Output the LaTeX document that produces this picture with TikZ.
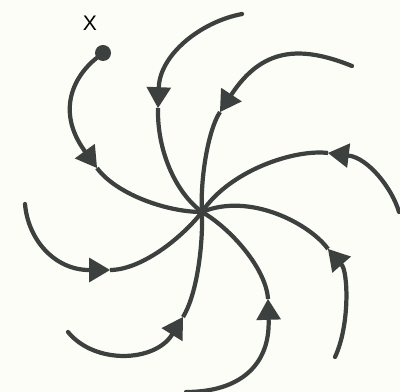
\documentclass[tikz,border=0pt]{standalone}
\usepackage{fontspec}
\setsansfont{Liberation Sans}
\usetikzlibrary{arrows.meta}

\definecolor{ink}{RGB}{60,64,62}
\definecolor{paper}{RGB}{253,253,248}

\begin{document}
\begin{tikzpicture}[
  x=0.025cm, y=-0.025cm,
  flow/.style={draw=ink, line width=3pt, line cap=round},
  inflow/.style={flow, -{Triangle[length=0.52cm, width=0.62cm, line width=0pt]}},
  onward/.style={flow, line cap=butt},
  dot/.style={circle, fill=ink, inner sep=0pt, minimum size=0.4cm},
  every node/.style={font=\sffamily\fontsize{15pt}{17pt}\selectfont}
]
\fill[paper] (0,0) rectangle (400,392);
\useasboundingbox (0,0) rectangle (400,392);

\coordinate (sink) at (202,212);
\node[dot] (xdot) at (103,53) {};
\node (xlabel) at (90,23) {X};

% free ends of the trajectories
\coordinate (s2) at (242,14);
\coordinate (s3) at (352,66);
\coordinate (s4) at (399,212);
\coordinate (s5) at (335,357);
\coordinate (s6) at (186,392);
\coordinate (s7) at (68,332);
\coordinate (s8) at (25,204);

% where the arrowheads point
\coordinate (t1) at (97,168);
\coordinate (t2) at (158,108);
\coordinate (t3) at (220,112);
\coordinate (t4) at (328,153);
\coordinate (t5) at (328,249);
\coordinate (t6) at (268,299);
\coordinate (t7) at (183,317);
\coordinate (t8) at (110,270);

\draw[inflow] (xdot) .. controls (75,75) and (55,110) .. (t1);
\draw[onward] (t1) .. controls (115,193) and (165,212) .. (sink);

\draw[inflow] (s2) .. controls (200,22) and (160,55) .. (t2);
\draw[onward] (t2) .. controls (157,150) and (175,192) .. (sink);

\draw[inflow] (s3) .. controls (300,45) and (262,48) .. (t3);
\draw[onward] (t3) .. controls (208,130) and (200,180) .. (sink);

\draw[inflow] (s4) .. controls (392,188) and (368,158) .. (t4);
\draw[onward] (t4) .. controls (295,149) and (230,170) .. (sink);

\draw[inflow] (s5) .. controls (350,325) and (348,272) .. (t5);
\draw[onward] (t5) .. controls (310,224) and (250,192) .. (sink);

\draw[inflow] (s6) .. controls (240,392) and (270,365) .. (t6);
\draw[onward] (t6) .. controls (266,268) and (230,228) .. (sink);

\draw[inflow] (s7) .. controls (95,365) and (155,362) .. (t7);
\draw[onward] (t7) .. controls (196,296) and (203,250) .. (sink);

\draw[inflow] (s8) .. controls (28,240) and (55,270) .. (t8);
\draw[onward] (t8) .. controls (140,270) and (180,240) .. (sink);

\end{tikzpicture}
\end{document}
